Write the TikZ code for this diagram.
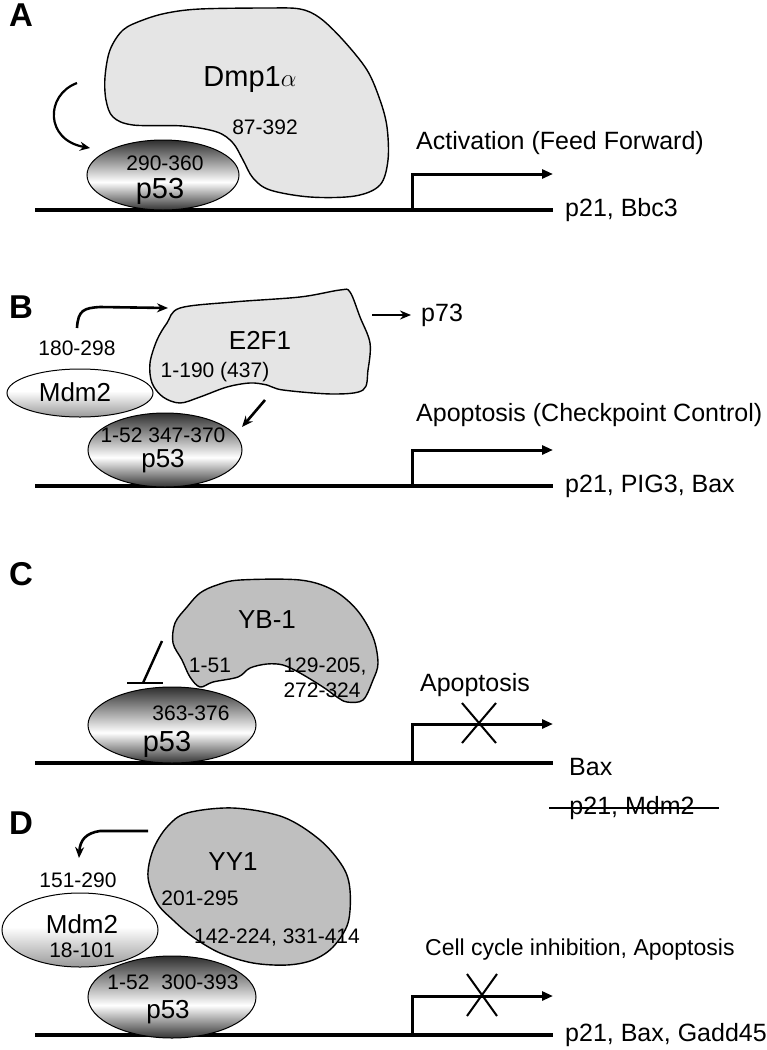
\documentclass[tikz,border=0pt]{standalone}
\usepackage{fontspec}
\setmainfont{Liberation Sans}
\usepackage{tikz}
\usetikzlibrary{arrows.meta,shapes.geometric,positioning}

\pgfdeclareverticalshading{pshade}{100bp}{color(0bp)=(black!80); color(25bp)=(black!80); color(45bp)=(white); color(75bp)=(black!82); color(100bp)=(black!82)}
\pgfdeclareverticalshading{mshade}{100bp}{color(0bp)=(black!40); color(25bp)=(black!40); color(52bp)=(white); color(100bp)=(white)}

\begin{document}
\begin{tikzpicture}[x=1pt, y=-1pt,
  every node/.style={inner sep=0pt},
  panel/.style={font=\fontsize{33}{36}\selectfont\bfseries},
  lbl/.style={font=\fontsize{25}{30}\selectfont},
  num/.style={font=\fontsize{21}{25}\selectfont},
  prot/.style={font=\fontsize{26}{30}\selectfont},
  pball/.style={draw, ellipse, shading=pshade, line width=1pt},
  mdm/.style={draw, ellipse, shading=mshade, line width=1pt},
  blob/.style={draw, line width=1.4pt, fill=#1},
  dna/.style={line width=4pt},
  prom/.style={line width=3pt, -{Triangle[length=11pt,width=9pt]}},
  arr/.style={line width=2.6pt, -{Stealth[length=11pt,width=9pt]}},
  nox/.style={line width=2pt}]
  \useasboundingbox (0,0) rectangle (767,1050);

  % A: Dmp1a
  \node[panel] (labA) at (21,15) {A};
  \draw[blob=black!10] plot[smooth cycle, tension=0.55] coordinates {(123,30) (143,20) (167,13) (200,9) (267,8) (300,9) (320,18) (343,40) (367,70) (380,100) (387,127) (388,160) (380,185) (355,196) (310,197) (270,190) (253,178) (243,160) (233,143) (217,132) (183,126) (133,125) (113,117) (106,100) (105,77) (110,50)};
  \node[prot, font=\fontsize{29}{32}\selectfont] (dmp) at (250,80) {Dmp1$\alpha$};
  \node[num] (dmpn) at (265,127) {87-392};
  \coordinate (dnaA0) at (35,210);
  \coordinate (dnaA1) at (553,210);
  \draw[dna] (dnaA0) -- (dnaA1);
  \node[pball, minimum width=152pt, minimum height=70pt] (pA) at (163,175) {};
  \node[num] (pAn) at (165,163) {290-360};
  \node[prot, font=\fontsize{29}{32}\selectfont] (pAt) at (160,191) {p53};
  \coordinate (cA0) at (77,83);
  \coordinate (cA1) at (90,148);
  \draw[arr, line width=2.2pt, -{Stealth[length=10pt,width=9pt]}] (cA0) .. controls (45,95) and (45,140) .. (cA1);
  \coordinate (tssA) at (412,210);
  \coordinate (tssA1) at (553,174);
  \draw[prom] (tssA) |- (tssA1);
  \node[lbl, anchor=west] (outA) at (416,143) {Activation (Feed Forward)};
  \node[lbl, right=12pt of dnaA1] (geneA) {p21, Bbc3};

  % B: E2F1
  \node[panel] (labB) at (21,307) {B};
  \draw[blob=black!10] plot[smooth cycle, tension=0.55] coordinates {(180,308) (233,302) (300,297) (340,290) (350,292) (360,317) (370,343) (368,370) (363,390) (333,394) (283,390) (267,385) (250,383) (227,387) (200,397) (180,403) (163,397) (152,383) (150,363) (157,340) (167,323)};
  \node[prot] (e2f) at (260,340) {E2F1};
  \node[num] (e2fn) at (215,372) {1-190 (437)};
  \node[mdm, minimum width=146pt, minimum height=48pt] (mB) at (80,393) {};
  \node[prot] (mBt) at (75,392) {Mdm2};
  \node[num] (mBn) at (77,348) {180-298};
  \coordinate (dnaB0) at (35,486);
  \coordinate (dnaB1) at (553,486);
  \draw[dna] (dnaB0) -- (dnaB1);
  \node[pball, minimum width=154pt, minimum height=74pt] (pB) at (165,450) {};
  \node[num] (pBn) at (163,435) {1-52 347-370};
  \node[prot] (pBt) at (163,461) {p53};
  \coordinate (cB0) at (77,328);
  \coordinate (cB1) at (168,308);
  \draw[arr] (cB0) .. controls (78,310) and (84,308) .. (100,307) -- (cB1);
  \coordinate (eB0) at (265,400);
  \coordinate (eB1) at (242,427);
  \draw[arr] (eB0) -- (eB1);
  \coordinate (tB0) at (372,315);
  \node[lbl, anchor=west] (p73) at (421,315) {p73};
  \draw[arr] (tB0) -- ([xshift=-10pt]p73.west);
  \coordinate (tssB) at (412,486);
  \coordinate (tssB1) at (553,450);
  \draw[prom] (tssB) |- (tssB1);
  \node[lbl, anchor=west] (outB) at (416,415) {Apoptosis (Checkpoint Control)};
  \node[lbl, right=12pt of dnaB1] (geneB) {p21, PIG3, Bax};

  % C: YB-1
  \node[panel] (labC) at (21,574) {C};
  \draw[blob=black!25] plot[smooth cycle, tension=0.55] coordinates {(187,607) (200,593) (217,585) (240,580) (300,580) (333,590) (357,610) (373,637) (378,663) (373,680) (363,700) (347,702) (337,697) (323,687) (300,673) (283,665) (267,664) (250,668) (238,677) (213,682) (200,687) (190,677) (182,660) (173,643) (175,623)};
  \node[prot] (yb) at (267,620) {YB-1};
  \node[num] (ybn) at (210,665) {1-51};
  \node[num, align=left, font=\fontsize{21}{25}\selectfont] (ybm) at (325,678) {129-205,\\272-324};
  \coordinate (dnaC0) at (35,763);
  \coordinate (dnaC1) at (553,763);
  \draw[dna] (dnaC0) -- (dnaC1);
  \node[pball, minimum width=168pt, minimum height=76pt] (pC) at (172,725) {};
  \node[num] (pCn) at (191,713) {363-376};
  \node[prot, font=\fontsize{29}{32}\selectfont] (pCt) at (167,744) {p53};
  \coordinate (inC0) at (162,641);
  \coordinate (inC1) at (143,683);
  \draw[line width=2.4pt] (inC0) -- (inC1);
  \draw[line width=2.4pt] ([xshift=-16pt]inC1) -- ([xshift=20pt]inC1);
  \coordinate (tssC) at (412,763);
  \coordinate (tssC1) at (553,724);
  \draw[prom] (tssC) |- (tssC1);
  \coordinate (xC) at (479,723);
  \draw[nox] ([shift={(-17,-20)}]xC) -- ([shift={(17,20)}]xC);
  \draw[nox] ([shift={(17,-20)}]xC) -- ([shift={(-17,20)}]xC);
  \node[lbl] (outC) at (475,685) {Apoptosis};
  \node[lbl, anchor=west] (geneC) at (569,767) {Bax};
  \node[lbl] (offC) at (632,808) {p21, Mdm2};
  \draw[line width=1.8pt] ([xshift=-20pt]offC.west) -- ([xshift=24pt]offC.east);

  % D: YY1
  \node[panel] (labD) at (21,823) {D};
  \draw[blob=black!25] plot[smooth cycle, tension=0.55] coordinates {(187,813) (233,808) (283,817) (320,840) (343,867) (350,890) (348,923) (333,947) (313,960) (287,965) (253,963) (220,953) (193,937) (173,920) (157,903) (148,877) (153,850) (167,827)};
  \node[prot] (yy) at (233,862) {YY1};
  \node[num] (yyn) at (200,898) {201-295};
  \node[num] (yym) at (277,937) {142-224, 331-414};
  \coordinate (dnaD0) at (35,1035);
  \coordinate (dnaD1) at (553,1035);
  \draw[dna] (dnaD0) -- (dnaD1);
  \node[mdm, minimum width=156pt, minimum height=74pt] (mD) at (80,930) {};
  \node[prot] (mDt) at (82,924) {Mdm2};
  \node[num] (mDn) at (82,950) {18-101};
  \node[num] (mDm) at (78,880) {151-290};
  \node[pball, minimum width=168pt, minimum height=82pt] (pD) at (172,997) {};
  \node[num] (pDn) at (173,982) {1-52\hspace{12pt}300-393};
  \node[prot] (pDt) at (168,1012) {p53};
  \coordinate (cD0) at (148,831);
  \coordinate (cD1) at (79,858);
  \draw[arr] (cD0) -- (100,831) .. controls (86,833) and (80,840) .. (cD1);
  \coordinate (tssD) at (412,1035);
  \coordinate (tssD1) at (553,996);
  \draw[prom] (tssD) |- (tssD1);
  \coordinate (xD) at (482,996);
  \draw[nox] ([shift={(-15,-22)}]xD) -- ([shift={(15,20)}]xD);
  \draw[nox] ([shift={(15,-22)}]xD) -- ([shift={(-15,20)}]xD);
  \node[lbl, anchor=west, font=\fontsize{23}{28}\selectfont] (outD) at (425,950) {Cell cycle inhibition, Apoptosis};
  \node[lbl, right=12pt of dnaD1] (geneD) {p21, Bax, Gadd45};
\end{tikzpicture}
\end{document}
